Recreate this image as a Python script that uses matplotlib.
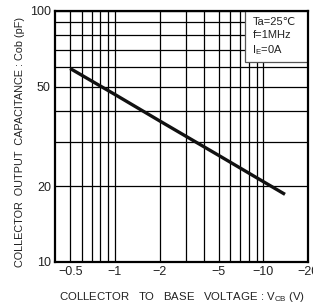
import numpy as np
import matplotlib
matplotlib.use('Agg')
import matplotlib.pyplot as plt
from matplotlib.ticker import FixedLocator, NullFormatter
from matplotlib.patches import Rectangle

plt.rcParams['font.family'] = ['Liberation Sans', 'DejaVu Sans']

# Cob vs Vcb (Vcb as magnitude)
vcb = [0.5, 1, 2, 5, 10, 14]
cob = [59, 46.5, 36.5, 26.6, 20.9, 18.6]

xticks = [0.5, 1, 2, 5, 10, 20]
xlabels = ['\u22120.5', '\u22121', '\u22122', '\u22125', '\u221210', '\u221220']
yticks = [10, 20, 50, 100]
ylabels = ['10', '20', '50', '100']

fig = plt.figure(figsize=(3.13, 3.05), dpi=100)
ax = fig.add_axes([0.1757, 0.141, 0.8083, 0.823])

ax.plot(vcb, cob, color='#111111', lw=2.4, solid_capstyle='butt')

ax.set_xscale('log')
ax.set_yscale('log')
ax.set_xlim(0.395, 20)
ax.set_ylim(10, 100)

ax.xaxis.set_major_locator(FixedLocator(xticks))
ax.set_xticklabels(xlabels)
ax.xaxis.set_minor_locator(FixedLocator([0.6, 0.7, 0.8, 0.9, 3, 4, 6, 7, 8, 9]))
ax.xaxis.set_minor_formatter(NullFormatter())
ax.yaxis.set_major_locator(FixedLocator(yticks))
ax.set_yticklabels(ylabels)
ax.yaxis.set_minor_locator(FixedLocator([30, 40, 60, 70, 80, 90]))
ax.yaxis.set_minor_formatter(NullFormatter())

ax.grid(True, which='both', color='black', lw=0.9)
ax.tick_params(which='both', length=0, labelsize=9, pad=3, colors='#222222')
for s in ax.spines.values():
    s.set_linewidth(1.6)
    s.set_zorder(5)

# condition box in the top right corner
ax.add_patch(Rectangle((0.751, 0.797), 0.249, 0.203, transform=ax.transAxes,
                       fc='white', ec='#555555', lw=0.9, zorder=3))
ax.text(0.78, 0.975, 'Ta=25\u2103\nf=1MHz\nI$_\\mathregular{E}$=0A', transform=ax.transAxes,
        fontsize=8, va='top', ha='left', linespacing=1.35, color='#222222', zorder=4)

fig.text(0.065, 0.535, 'COLLECTOR  OUTPUT  CAPACITANCE : Cob (pF)', rotation=90,
         ha='center', va='center', fontsize=7.8, color='#222222')
fig.text(0.19, 0.026, 'COLLECTOR   TO   BASE   VOLTAGE : V$_\\mathregular{CB}$ (V)',
         ha='left', va='center', fontsize=8.2, color='#222222')

fig.savefig('out.png', dpi=100)
